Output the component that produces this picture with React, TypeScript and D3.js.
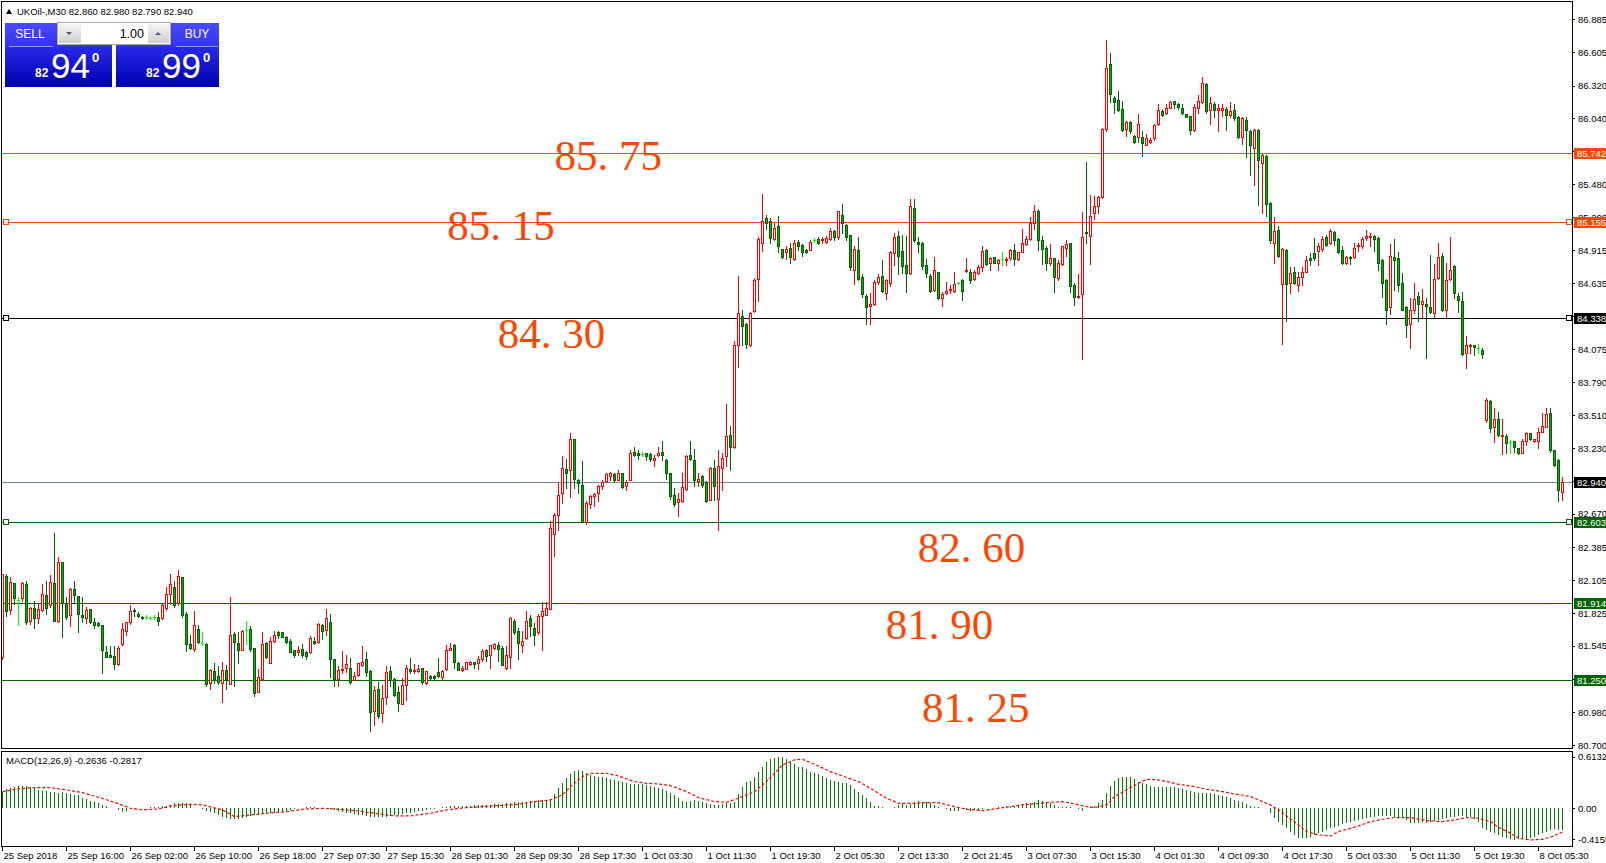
import React from 'react';
import * as d3 from 'd3';

const WIDTH = 1606;
const HEIGHT = 863;

const symbolInfo = 'UKOil-,M30  82.860 82.980 82.790 82.940';
const bidParts = ['82', '94', '0'];
const askParts = ['82', '99', '0'];
const lotSize = '1.00';
const macdTitle = 'MACD(12,26,9) -0.2636 -0.2817';

// price scale labels, top to bottom
const priceTicks = [
  '86.885', '86.605', '86.320', '86.040', '85.760', '85.480', '85.200', '84.915',
  '84.635', '84.355', '84.075', '83.790', '83.510', '83.230', '82.950', '82.670',
  '82.385', '82.105', '81.825', '81.545', '81.265', '80.980', '80.700',
];
const macdTicks = ['0.6132', '0.00', '-0.4155'];

// one label every 16 bars
const timeLabels = [
  '25 Sep 2018', '25 Sep 16:00', '26 Sep 02:00', '26 Sep 10:00', '26 Sep 18:00',
  '27 Sep 07:30', '27 Sep 15:30', '28 Sep 01:30', '28 Sep 09:30', '28 Sep 17:30',
  '1 Oct 03:30', '1 Oct 11:30', '1 Oct 19:30', '2 Oct 05:30', '2 Oct 13:30',
  '2 Oct 21:45', '3 Oct 07:30', '3 Oct 15:30', '4 Oct 01:30', '4 Oct 09:30',
  '4 Oct 17:30', '5 Oct 03:30', '5 Oct 11:30', '5 Oct 19:30', '8 Oct 05:30',
];
const TIME_STEP = 16;

// horizontal line objects
const hLines = [
  { price: 85.742, color: '#FF4500', tag: '85.742', handles: false },
  { price: 85.155, color: '#FF4500', tag: '85.155', handles: true },
  { price: 84.338, color: '#000000', tag: '84.338', handles: true },
  { price: 82.940, color: '#778899', tag: '82.940', handles: false, tagBg: '#000000' },
  { price: 82.603, color: '#006400', tag: '82.603', handles: true },
  { price: 81.914, color: '#006400', tag: '81.914', handles: false },
  { price: 81.250, color: '#006400', tag: '81.250', handles: false },
];

// text objects: baseline price, left bar
const levelTexts = [
  { text: '85. 75', price: 85.600, bar: 138 },
  { text: '85. 15', price: 85.000, bar: 111.2 },
  { text: '84. 30', price: 84.080, bar: 123.8 },
  { text: '82. 60', price: 82.259, bar: 228.8 },
  { text: '81. 90', price: 81.601, bar: 220.8 },
  { text: '81. 25', price: 80.897, bar: 229.9 },
];

// M30 bars [open, high, low, close]
const candles: number[][] = [
  [81.45,82.16,81.43,82.16],[82.14,82.16,81.80,81.84],[81.85,82.13,81.82,82.09],[82.08,82.08,81.90,81.95],
  [81.94,81.96,81.72,81.94],[81.95,82.09,81.93,82.08],[82.07,82.10,81.73,81.75],[81.76,81.88,81.73,81.87],
  [81.87,81.93,81.70,81.78],[81.78,81.91,81.74,81.86],[81.85,82.07,81.84,81.99],[81.98,82.10,81.82,81.87],
  [81.89,82.15,81.88,82.09],[82.08,82.51,81.76,81.76],[81.76,82.30,81.75,82.26],[82.26,82.26,81.62,81.91],
  [81.91,81.96,81.77,81.79],[81.81,82.04,81.71,82.03],[82.03,82.10,81.92,81.98],[81.97,81.97,81.66,81.82],
  [81.81,81.96,81.75,81.79],[81.78,81.88,81.74,81.85],[81.86,81.86,81.74,81.75],[81.75,81.78,81.70,81.72],
  [81.74,81.75,81.71,81.72],[81.72,81.72,81.31,81.51],[81.49,81.54,81.45,81.45],[81.47,81.54,81.45,81.45],
  [81.46,81.54,81.35,81.39],[81.39,81.54,81.38,81.53],[81.56,81.74,81.55,81.69],[81.67,81.75,81.64,81.75],
  [81.75,81.89,81.73,81.84],[81.85,81.87,81.80,81.84],[81.82,81.83,81.79,81.80],[81.79,81.80,81.77,81.78],
  [81.79,81.81,81.77,81.79],[81.78,81.79,81.77,81.78],[81.79,81.81,81.77,81.79],[81.79,81.83,81.72,81.76],
  [81.78,81.90,81.77,81.89],[81.87,82.05,81.85,81.99],[81.99,82.16,81.90,82.07],[82.05,82.10,81.88,81.89],
  [81.91,82.19,81.89,82.14],[82.13,82.13,81.79,81.81],[81.82,81.83,81.50,81.56],[81.56,81.64,81.52,81.53],
  [81.52,81.84,81.50,81.72],[81.69,81.72,81.57,81.58],[81.57,81.66,81.55,81.57],[81.56,81.57,81.20,81.22],
  [81.23,81.35,81.18,81.34],[81.33,81.40,81.23,81.26],[81.29,81.37,81.22,81.24],[81.23,81.41,81.07,81.34],
  [81.34,81.38,81.18,81.26],[81.22,81.96,81.22,81.64],[81.65,81.66,81.20,81.58],[81.57,81.66,81.40,81.51],
  [81.51,81.68,81.51,81.67],[81.68,81.76,81.56,81.68],[81.69,81.71,81.50,81.52],[81.53,81.53,81.12,81.14],
  [81.15,81.35,81.15,81.28],[81.26,81.66,81.25,81.56],[81.57,81.58,81.44,81.45],[81.40,81.62,81.40,81.59],
  [81.59,81.67,81.58,81.64],[81.66,81.67,81.61,81.64],[81.66,81.66,81.62,81.62],[81.62,81.63,81.57,81.58],
  [81.59,81.60,81.49,81.49],[81.51,81.51,81.45,81.47],[81.49,81.54,81.47,81.51],[81.52,81.56,81.45,81.47],
  [81.49,81.50,81.43,81.46],[81.49,81.63,81.48,81.61],[81.59,81.62,81.56,81.57],[81.58,81.74,81.57,81.73],
  [81.72,81.73,81.60,81.67],[81.68,81.86,81.64,81.78],[81.75,81.82,81.28,81.43],[81.43,81.43,81.20,81.26],
  [81.26,81.37,81.20,81.34],[81.34,81.50,81.31,81.35],[81.36,81.47,81.32,81.39],[81.36,81.44,81.22,81.24],
  [81.25,81.32,81.25,81.29],[81.30,81.40,81.29,81.40],[81.38,81.54,81.37,81.41],[81.43,81.49,81.29,81.32],
  [81.33,81.34,80.82,80.98],[80.99,81.20,80.87,81.17],[81.18,81.24,80.93,80.95],[80.97,81.21,80.90,81.10],
  [81.11,81.37,81.05,81.32],[81.33,81.37,81.20,81.25],[81.26,81.27,81.12,81.13],[81.15,81.20,80.99,81.06],
  [81.05,81.27,81.05,81.21],[81.21,81.38,81.08,81.36],[81.35,81.44,81.31,81.33],[81.33,81.39,81.31,81.34],
  [81.33,81.38,81.32,81.35],[81.36,81.36,81.22,81.24],[81.23,81.33,81.22,81.33],[81.29,81.30,81.26,81.27],
  [81.29,81.30,81.26,81.27],[81.32,81.44,81.28,81.29],[81.28,81.34,81.26,81.33],[81.35,81.55,81.34,81.51],
  [81.51,81.57,81.51,81.53],[81.55,81.56,81.36,81.41],[81.40,81.41,81.34,81.34],[81.34,81.37,81.33,81.36],
  [81.35,81.41,81.35,81.41],[81.39,81.42,81.38,81.41],[81.41,81.41,81.36,81.39],[81.40,81.46,81.35,81.43],
  [81.43,81.52,81.42,81.50],[81.51,81.52,81.42,81.46],[81.47,81.55,81.36,81.55],[81.53,81.57,81.52,81.56],
  [81.55,81.58,81.42,81.52],[81.53,81.54,81.38,81.38],[81.36,81.54,81.35,81.47],[81.45,81.79,81.36,81.78],
  [81.76,81.77,81.65,81.66],[81.67,81.70,81.43,81.57],[81.55,81.67,81.49,81.59],[81.61,81.84,81.60,81.76],
  [81.78,81.81,81.63,81.71],[81.70,81.74,81.55,81.64],[81.66,81.82,81.65,81.80],[81.80,81.92,81.51,81.84],
  [81.81,81.92,81.81,81.87],[81.86,82.61,81.86,82.55],[82.50,82.68,82.31,82.66],[82.66,82.93,82.53,82.83],
  [82.85,83.16,82.76,83.06],[83.05,83.14,82.89,83.02],[83.04,83.36,82.81,83.31],[83.31,83.31,82.89,82.97],
  [82.96,82.97,82.85,82.93],[82.92,83.12,82.60,82.60],[82.60,82.78,82.58,82.76],[82.75,82.83,82.72,82.82],
  [82.82,82.85,82.74,82.84],[82.85,82.92,82.78,82.91],[82.91,82.96,82.88,82.94],[82.95,83.02,82.94,83.01],
  [82.99,83.03,82.96,83.02],[83.01,83.02,82.94,82.96],[82.96,83.04,82.96,83.02],[83.02,83.02,82.89,82.90],
  [82.91,82.96,82.87,82.94],[82.96,83.21,82.96,83.19],[83.20,83.24,83.16,83.17],[83.19,83.21,83.14,83.17],
  [83.18,83.20,83.16,83.18],[83.19,83.19,83.13,83.16],[83.18,83.19,83.12,83.14],[83.13,83.17,83.08,83.15],
  [83.17,83.24,83.16,83.19],[83.20,83.29,83.13,83.17],[83.13,83.14,82.97,83.02],[83.02,83.02,82.80,82.82],
  [82.83,82.89,82.74,82.75],[82.77,82.85,82.65,82.80],[82.78,83.02,82.77,82.90],[82.88,83.17,82.87,83.16],
  [83.17,83.29,83.13,83.14],[83.13,83.22,82.91,82.96],[82.95,83.02,82.91,82.97],[82.99,83.00,82.90,82.92],
  [82.94,82.95,82.77,82.78],[82.79,83.07,82.79,83.06],[83.06,83.13,82.79,82.91],[82.80,83.21,82.53,83.08],
  [83.06,83.19,82.87,83.15],[83.16,83.61,83.08,83.33],[83.34,83.42,83.04,83.24],[83.24,84.14,83.23,84.11],
  [84.11,84.70,83.92,84.38],[84.36,84.41,84.11,84.27],[84.29,84.30,84.08,84.12],[84.11,84.39,84.10,84.38],
  [84.40,84.68,84.39,84.66],[84.67,85.03,84.48,85.01],[84.98,85.40,84.91,85.17],[85.19,85.22,85.10,85.15],
  [85.17,85.19,84.98,85.02],[85.01,85.15,85.00,85.11],[85.12,85.21,84.90,84.95],[84.93,84.93,84.85,84.86],
  [84.90,84.95,84.84,84.93],[84.94,84.98,84.81,84.86],[84.84,85.00,84.83,84.98],[84.99,85.00,84.92,84.95],
  [84.96,84.97,84.87,84.90],[84.92,84.93,84.89,84.90],[84.92,85.00,84.92,84.99],[85.00,85.02,84.99,85.00],
  [85.01,85.03,84.97,84.98],[85.00,85.03,84.98,85.01],[84.99,85.04,84.98,85.02],[85.01,85.11,85.00,85.08],
  [85.08,85.09,85.00,85.03],[85.03,85.25,85.01,85.25],[85.22,85.31,85.06,85.15],[85.13,85.14,85.00,85.03],
  [85.05,85.05,84.75,84.77],[84.75,84.95,84.63,84.93],[84.92,85.03,84.66,84.67],[84.69,84.71,84.52,84.54],
  [84.53,84.54,84.29,84.43],[84.44,84.55,84.29,84.46],[84.46,84.66,84.45,84.65],[84.65,84.71,84.63,84.69],
  [84.70,84.83,84.56,84.57],[84.55,84.67,84.50,84.66],[84.64,84.91,84.61,84.90],[84.89,85.06,84.79,85.03],
  [85.04,85.08,84.71,84.87],[84.91,85.05,84.72,84.78],[84.79,85.04,84.56,84.72],[84.72,85.35,84.71,85.29],
  [85.28,85.35,84.99,85.00],[84.99,85.03,84.90,84.97],[84.98,84.99,84.76,84.78],[84.79,84.84,84.69,84.72],
  [84.70,84.71,84.56,84.57],[84.58,84.86,84.57,84.75],[84.73,84.73,84.50,84.51],[84.51,84.56,84.44,84.54],
  [84.55,84.65,84.54,84.57],[84.58,84.62,84.55,84.59],[84.57,84.73,84.56,84.63],[84.64,84.65,84.63,84.64],
  [84.66,84.67,84.49,84.57],[84.74,84.85,84.73,84.75],[84.73,84.76,84.64,84.66],[84.67,84.75,84.66,84.73],
  [84.72,84.79,84.71,84.77],[84.77,84.95,84.74,84.91],[84.92,84.93,84.79,84.80],[84.81,84.86,84.75,84.85],
  [84.86,84.86,84.81,84.81],[84.81,84.84,84.75,84.83],[84.84,84.90,84.79,84.84],[84.83,84.86,84.79,84.84],
  [84.85,84.93,84.83,84.92],[84.92,84.97,84.79,84.84],[84.84,84.90,84.83,84.90],[84.90,85.10,84.90,84.98],
  [84.97,85.04,84.96,85.01],[85.01,85.20,85.00,85.15],[85.15,85.30,85.10,85.25],[85.25,85.27,84.92,85.00],
  [85.00,85.04,84.80,84.93],[84.94,84.95,84.75,84.81],[84.81,84.97,84.79,84.85],[84.85,84.85,84.56,84.69],
  [84.68,84.83,84.66,84.81],[84.80,84.95,84.79,84.95],[84.94,85.00,84.87,84.97],[84.98,84.98,84.56,84.61],
  [84.62,84.64,84.45,84.52],[84.52,84.71,84.51,84.53],[84.54,85.24,83.99,85.03],[85.07,85.67,84.98,85.06],
  [85.04,85.39,84.80,85.21],[85.23,85.38,85.18,85.29],[85.29,85.38,85.23,85.37],[85.37,85.96,85.36,85.95],
  [85.95,86.71,85.93,86.47],[86.50,86.60,86.18,86.25],[86.21,86.23,86.09,86.18],[86.20,86.27,86.10,86.11],
  [86.12,86.19,85.93,85.94],[85.95,86.02,85.89,86.01],[86.01,86.02,85.92,85.93],[85.89,85.90,85.83,85.84],
  [85.88,86.08,85.84,85.99],[85.88,85.93,85.72,85.83],[85.81,85.91,85.81,85.87],[85.84,85.87,85.83,85.86],
  [85.87,85.99,85.86,85.98],[85.99,86.16,85.98,86.11],[86.10,86.12,86.06,86.07],[86.09,86.16,86.08,86.13],
  [86.13,86.19,86.13,86.18],[86.19,86.19,86.13,86.16],[86.16,86.17,86.12,86.14],[86.13,86.16,86.08,86.09],
  [86.08,86.08,86.05,86.05],[86.06,86.06,85.91,85.94],[85.94,86.16,85.93,86.14],[86.13,86.24,86.09,86.19],
  [86.18,86.39,86.17,86.34],[86.33,86.34,86.09,86.10],[86.11,86.22,85.99,86.17],[86.16,86.18,86.05,86.11],
  [86.11,86.16,85.93,86.13],[86.11,86.16,86.06,86.13],[86.12,86.14,85.94,86.07],[86.07,86.18,86.05,86.10],
  [86.11,86.16,86.03,86.04],[86.05,86.06,85.87,85.88],[85.88,86.05,85.82,86.04],[86.03,86.05,85.71,85.94],
  [85.93,85.94,85.56,85.81],[85.79,85.95,85.47,85.94],[85.94,85.95,85.30,85.69],[85.66,85.74,85.23,85.73],
  [85.72,85.73,85.21,85.31],[85.32,85.33,84.98,85.00],[84.98,85.20,84.81,85.08],[85.09,85.12,84.86,84.87],
  [84.63,84.94,84.12,84.93],[84.92,84.93,84.31,84.63],[84.64,84.77,84.55,84.72],[84.73,84.77,84.63,84.64],
  [84.62,84.73,84.57,84.69],[84.69,84.77,84.62,84.73],[84.73,84.87,84.73,84.83],[84.85,84.89,84.79,84.83],
  [84.89,85.02,84.83,84.85],[84.91,84.98,84.79,84.95],[84.93,85.04,84.91,85.01],[85.03,85.05,84.95,84.96],
  [84.98,85.10,84.97,85.08],[85.07,85.08,84.96,85.00],[85.01,85.02,84.89,84.90],[84.92,84.95,84.80,84.81],
  [84.81,84.87,84.80,84.86],[84.86,84.87,84.80,84.85],[84.86,84.98,84.85,84.94],[84.95,84.98,84.91,84.96],
  [84.95,85.03,84.94,85.01],[85.02,85.09,85.00,85.04],[85.03,85.06,84.95,85.04],[85.04,85.05,84.91,85.01],
  [85.02,85.03,84.75,84.81],[84.83,84.84,84.52,84.64],[84.66,84.67,84.29,84.41],[84.43,84.97,84.37,84.87],
  [84.86,85.01,84.58,84.83],[84.85,84.90,84.57,84.62],[84.64,84.72,84.41,84.41],[84.43,84.44,84.18,84.28],
  [84.29,84.51,84.08,84.41],[84.41,84.64,84.38,84.50],[84.53,84.56,84.31,84.46],[84.46,84.59,84.34,84.48],
  [84.46,84.51,84.00,84.44],[84.43,84.88,84.38,84.39],[84.38,84.80,84.35,84.67],[84.68,84.98,84.67,84.86],
  [84.87,84.89,84.40,84.41],[84.41,84.81,84.34,84.66],[84.67,85.03,84.66,84.75],[84.78,84.79,84.51,84.55],
  [84.53,84.55,84.39,84.49],[84.48,84.56,84.02,84.03],[84.04,84.19,83.91,84.11],[84.10,84.12,84.04,84.11],
  [84.105,84.11,84.02,84.095],[84.08,84.12,84.04,84.08],[84.07,84.08,84.00,84.03],[83.47,83.66,83.45,83.64],
  [83.63,83.64,83.37,83.40],[83.41,83.57,83.28,83.48],[83.48,83.54,83.33,83.34],[83.33,83.48,83.18,83.34],
  [83.33,83.35,83.19,83.27],[83.28,83.30,83.19,83.28],[83.29,83.29,83.20,83.24],[83.23,83.23,83.18,83.19],
  [83.19,83.31,83.19,83.29],[83.29,83.37,83.26,83.36],[83.36,83.36,83.30,83.31],[83.29,83.31,83.28,83.31],
  [83.29,83.40,83.23,83.37],[83.37,83.53,83.37,83.42],[83.41,83.57,83.41,83.52],[83.53,83.57,83.20,83.21],
  [83.21,83.21,83.08,83.09],[83.13,83.14,82.78,82.87],[82.86,82.98,82.79,82.94],
];

// MACD main line, one value per bar (drawn as histogram)
const macdMain = [
  .198,.226,.238,.258,.265,.265,.265,.258,.238,.218,.210,.206,.198,.190,.178,.198,.178,.166,.159,.159,
  .127,.107,.091,.071,.067,.040,.028,.008,0,-.020,-.040,-.028,-.008,-.012,0,
  .008,.008,.012,.020,.020,.028,.032,.040,.059,.067,.067,.059,.040,
  .008,0,-.008,-.028,-.040,
  -.059,-.079,-.099,-.119,-.131,-.131,-.123,-.111,-.099,-.091,
  -.083,-.079,-.071,-.067,-.059,-.052,-.048,-.044,-.036,
  -.020,-.008,0,.008,.012,.012,.012,.008,.004,0,-.008,
  -.020,-.032,-.040,-.052,-.059,-.067,-.075,-.083,-.091,-.099,-.103,-.107,-.107,
  -.099,-.091,-.083,-.075,-.067,-.059,-.052,-.044,-.036,-.028,-.020,
  -.012,-.004,.004,.012,.020,.028,.032,.032,.028,
  .028,.032,.036,.036,.040,.040,.044,.048,.052,.055,.059,.067,
  .071,.075,.079,.079,.083,.087,.095,
  .099,.099,.107,.170,.238,
  .297,.357,.404,.448,.456,.448,.424,.396,.384,.377,
  .369,.357,.345,.337,.329,.317,.297,.289,.289,.289,
  .285,.277,.265,.258,.238,.226,.210,.186,.159,.119,
  .087,.079,.087,.099,.087,.079,.059,.048,.040,.040,
  .048,.059,.067,.079,.170,.250,.317,.329,.369,.428,
  .495,.555,.587,.602,.614,.606,.583,.555,.527,.495,
  .495,.464,.436,.424,.404,.384,.357,.337,.329,.313,
  .305,.297,.277,.226,.198,.159,.119,.071,.032,.028,
  .020,.008,0,.020,.040,.048,.040,.048,.079,.087,
  .079,.079,.059,.040,.020,.008,-.012,-.028,-.032,-.028,
  -.012,-.020,-.028,-.020,-.020,-.012,0,0,0,.012,
  .020,.028,.020,.032,.040,.048,.059,.067,.079,.099,
  .091,.079,.059,.040,.020,
  .012,.020,.020,.008,-.008,-.032,0,.020,.032,.059,
  .099,.178,.265,.329,.365,.377,.377,.369,.345,.317,
  .297,.285,.269,.258,.250,.250,.250,.250,.250,.238,
  .226,.218,.206,.190,.178,.178,.178,.178,.166,.159,
  .147,.131,.119,.099,.087,.071,.048,.032,.020,.012,
  .008,0,
  -.059,-.119,-.159,-.198,-.238,-.277,-.317,-.349,-.357,-.357,
  -.337,-.317,-.297,-.277,-.258,-.238,-.218,-.206,-.190,-.178,
  -.166,-.151,-.139,-.131,-.119,-.107,-.099,-.091,-.091,-.091,
  -.091,-.099,-.099,-.107,-.139,-.170,-.178,-.170,-.159,-.170,
  -.159,-.151,-.139,-.127,-.119,-.107,-.099,-.091,-.087,-.099,
  -.107,-.131,-.159,-.238,-.258,-.277,-.297,-.317,-.337,-.357,
  -.369,-.377,-.369,-.365,-.365,-.357,-.337,-.317,-.297,-.277,
  -.258,-.250,-.258,-.2636,
];

// signal line read at [bar, value]
const macdSignal: [number, number][] = [
  [0,.198],[4,.230],[8,.246],[12,.246],[16,.218],[20,.186],[24,.131],[28,.071],[32,0],[35,-.020],
  [39,-.008],[42,.028],[47,.048],[50,.040],[55,-.020],[58,-.099],[62,-.079],[66,-.059],[71,-.040],
  [75,-.012],[80,0],[84,-.012],[89,-.032],[93,-.059],[98,-.091],[102,-.091],[107,-.059],[111,-.020],
  [116,.008],[120,.020],[124,.032],[129,.048],[133,.079],[137,.099],[140,.159],[142,.258],[145,.377],
  [147,.416],[151,.416],[154,.384],[158,.317],[161,.297],[165,.285],[167,.269],[171,.198],[174,.127],
  [178,.079],[181,.071],[184,.119],[188,.198],[191,.317],[195,.515],[198,.575],[200,.583],[203,.523],
  [207,.436],[210,.384],[214,.317],[217,.238],[221,.119],[224,.059],[228,.059],[231,.067],[234,.067],
  [238,.020],[241,-.012],[245,-.028],[248,-.008],[252,.020],[255,.040],[259,.059],[262,.071],[265,.079],
  [268,.052],[271,.020],[273,.008],[276,.040],[278,.139],[281,.218],[284,.297],[286,.345],[289,.337],
  [292,.309],[294,.285],[298,.258],[301,.226],[305,.198],[308,.170],[312,.139],[315,.079],[317,.040],
  [319,-.020],[321,-.091],[324,-.198],[326,-.277],[329,-.317],[332,-.329],[334,-.277],[337,-.238],
  [339,-.210],[342,-.159],[345,-.131],[348,-.111],[352,-.111],[354,-.131],[357,-.151],[360,-.159],
  [364,-.131],[366,-.111],[369,-.119],[372,-.159],[374,-.226],[377,-.297],[379,-.357],[382,-.377],
  [385,-.369],[387,-.345],[390,-.2817],
];

const UI_FONT = "'Liberation Sans', Arial, sans-serif";
const AXIS_FONT = 9.5;
const BULL = '#FF0000';
const BEAR_LINE = '#006400';
const BEAR_FILL = '#20A020';
const DOJI = '#00FF00';

const frame = { left: 2, right: 1572, top: 2, bottom: 748 };
const macdFrame = { top: 751, bottom: 846 };

const crisp = (v: number) => Math.round(v) + 0.5;

function TradePanel() {
  const big = (parts: string[], x0: number) => (
    <g fill="#fff" fontFamily={UI_FONT}>
      <text x={x0} y={77} fontSize={12} fontWeight="bold">{parts[0]}</text>
      <text x={x0 + 16} y={78} fontSize={35}>{parts[1]}</text>
      <text x={x0 + 57} y={62} fontSize={13} fontWeight="bold">{parts[2]}</text>
    </g>
  );
  return (
    <g>
      <defs>
        <linearGradient id="btnTop" x1="0" y1="0" x2="0" y2="1">
          <stop offset="0" stopColor="#4a4aff" />
          <stop offset="1" stopColor="#3232f2" />
        </linearGradient>
        <linearGradient id="btnBot" x1="0" y1="0" x2="0" y2="1">
          <stop offset="0" stopColor="#2828e8" />
          <stop offset="1" stopColor="#0000b0" />
        </linearGradient>
        <linearGradient id="spin" x1="0" y1="0" x2="0" y2="1">
          <stop offset="0" stopColor="#f4f4f4" />
          <stop offset="1" stopColor="#cfcfcf" />
        </linearGradient>
      </defs>
      {[5, 116].map((bx, k) => (
        <g key={k}>
          <rect x={bx} y={23} width={k ? 103 : 107} height={24} fill="url(#btnTop)" />
          <rect x={bx} y={47} width={k ? 103 : 107} height={40} fill="url(#btnBot)" />
        </g>
      ))}
      <line x1={9} x2={53} y1={46.5} y2={46.5} stroke="#9a9aff" />
      <line x1={176} x2={218} y1={46.5} y2={46.5} stroke="#9a9aff" />
      <text x={30} y={38} fill="#fff" fontSize={12} fontFamily={UI_FONT} textAnchor="middle">SELL</text>
      <text x={197} y={38} fill="#fff" fontSize={12} fontFamily={UI_FONT} textAnchor="middle">BUY</text>
      <rect x={57.5} y={22.5} width={113} height={22} fill="#fff" stroke="#a8a8a8" />
      <rect x={59} y={24} width={22} height={19} fill="url(#spin)" />
      <rect x={148} y={24} width={21} height={19} fill="url(#spin)" />
      <path d="M66,32 L72,32 L69,35 Z" fill="#4a5a8a" />
      <path d="M155,35 L161,35 L158,32 Z" fill="#4a5a8a" />
      <text x={144} y={38} fontSize={12.5} fontFamily={UI_FONT} textAnchor="end" fill="#000">{lotSize}</text>
      {big(bidParts, 35)}
      {big(askParts, 146)}
    </g>
  );
}

export default function App() {
  const n = candles.length;
  const x = d3.scaleLinear().domain([0, n - 1]).range([2.5, 1562.5]);
  const y = d3.scaleLinear().domain([80.7, 86.885]).range([745, 19.3]);
  const ym = d3.scaleLinear().domain([-0.4155, 0.6132]).range([843.2, 756.7]);

  const signalPath = d3
    .line<[number, number]>()
    .x((d) => x(d[0]))
    .y((d) => ym(d[1]))(macdSignal);

  return (
    <svg
      width={WIDTH}
      height={HEIGHT}
      style={{ position: 'fixed', left: 0, top: 0, background: '#fff' }}
      fontFamily={UI_FONT}
    >
      <defs>
        <clipPath id="mainClip">
          <rect x={frame.left} y={frame.top} width={frame.right - frame.left} height={frame.bottom - frame.top} />
        </clipPath>
        <clipPath id="macdClip">
          <rect x={frame.left} y={macdFrame.top} width={frame.right - frame.left} height={macdFrame.bottom - macdFrame.top} />
        </clipPath>
      </defs>
      <rect x={0} y={0} width={WIDTH} height={HEIGHT} fill="#fff" />

      {/* horizontal line objects */}
      <g clipPath="url(#mainClip)" shapeRendering="crispEdges">
        {hLines.map((l) => (
          <line key={l.tag} x1={frame.left} x2={frame.right} y1={crisp(y(l.price))} y2={crisp(y(l.price))} stroke={l.color} />
        ))}
      </g>

      {/* level texts */}
      <g fill="#FF4500" fontFamily="'Liberation Serif', 'Times New Roman', serif" fontSize={43}>
        {levelTexts.map((t) => (
          <text key={t.text} x={x(t.bar)} y={y(t.price)}>{t.text}</text>
        ))}
      </g>

      {/* candles */}
      <g clipPath="url(#mainClip)" shapeRendering="crispEdges">
        {candles.map(([o, h, l, c], i) => {
          const cx = crisp(x(i) - 0.5);
          const yTop = Math.round(y(Math.max(o, c)));
          const yBot = Math.round(y(Math.min(o, c)));
          const wick = (
            <line x1={cx} x2={cx} y1={Math.round(y(h))} y2={Math.round(y(l)) + 1}
              stroke={o === c ? DOJI : c > o ? BULL : BEAR_LINE} />
          );
          if (o === c) {
            return (
              <g key={i}>
                {wick}
                <line x1={cx - 1.5} x2={cx + 1.5} y1={yTop + 0.5} y2={yTop + 0.5} stroke={DOJI} />
              </g>
            );
          }
          const bull = c > o;
          return (
            <g key={i}>
              {wick}
              <rect x={cx - 1} y={yTop + 0.5} width={2} height={Math.max(yBot - yTop, 1)}
                fill={bull ? '#fff' : BEAR_FILL} stroke={bull ? BULL : BEAR_LINE} />
            </g>
          );
        })}
      </g>

      {/* line handles */}
      <g shapeRendering="crispEdges">
        {hLines.filter((l) => l.handles).map((l) => {
          const yy = Math.round(y(l.price));
          return (
            <g key={l.tag} fill="#fff" stroke={l.color}>
              <rect x={3.5} y={yy - 2.5} width={5} height={5} />
              <rect x={1566.5} y={yy - 2.5} width={5} height={5} />
            </g>
          );
        })}
      </g>

      {/* MACD */}
      <g clipPath="url(#macdClip)" shapeRendering="crispEdges">
        {macdMain.map((v, i) => (
          <line key={i} x1={crisp(x(i) - 0.5)} x2={crisp(x(i) - 0.5)}
            y1={Math.round(ym(0))} y2={Math.round(ym(v))} stroke="#008000" />
        ))}
      </g>
      <path d={signalPath ?? ''} fill="none" stroke="#FF0000" strokeWidth={1.2} strokeDasharray="3,2" clipPath="url(#macdClip)" />

      {/* frames */}
      <g fill="none" stroke="#000" shapeRendering="crispEdges">
        <rect x={frame.left - 0.5} y={frame.top - 0.5} width={frame.right - frame.left + 1} height={frame.bottom - frame.top + 1} />
        <rect x={frame.left - 0.5} y={macdFrame.top + 0.5} width={frame.right - frame.left + 1} height={macdFrame.bottom - macdFrame.top} />
      </g>

      {/* price scale */}
      <g fontSize={AXIS_FONT} fill="#000" shapeRendering="crispEdges">
        {priceTicks.map((t) => {
          const yy = y(+t);
          return (
            <g key={t}>
              <line x1={frame.right} x2={frame.right + 3} y1={crisp(yy)} y2={crisp(yy)} stroke="#000" />
              <text x={1578} y={yy + 3.5}>{t}</text>
            </g>
          );
        })}
        {hLines.map((l) => {
          const yy = Math.round(y(l.price));
          return (
            <g key={l.tag}>
              <rect x={1574} y={yy - 5} width={32} height={11} fill={l.tagBg ?? l.color} />
              <text x={1577} y={yy + 3.5} fill="#fff">{l.tag}</text>
            </g>
          );
        })}
        {macdTicks.map((t, k) => {
          const yy = k === 2 ? 839 : ym(+t);
          return (
            <g key={t}>
              <line x1={frame.right} x2={frame.right + 3} y1={crisp(yy)} y2={crisp(yy)} stroke="#000" />
              <text x={1578} y={yy + 3.5}>{t}</text>
            </g>
          );
        })}
      </g>

      {/* time scale */}
      <g fontSize={AXIS_FONT} fill="#000" shapeRendering="crispEdges">
        {timeLabels.map((t, k) => {
          const xx = crisp(x(k * TIME_STEP) - 0.5);
          return (
            <g key={t}>
              <line x1={xx} x2={xx} y1={macdFrame.bottom + 1} y2={macdFrame.bottom + 5} stroke="#000" />
              <text x={xx + 1} y={859}>{t}</text>
            </g>
          );
        })}
      </g>

      {/* headers */}
      <path d="M6,14 L12,14 L9,9 Z" fill="#000" />
      <text x={17} y={15} fontSize={AXIS_FONT} fill="#000">{symbolInfo}</text>
      <text x={6} y={764} fontSize={AXIS_FONT} fill="#000">{macdTitle}</text>
      <TradePanel />
    </svg>
  );
}
